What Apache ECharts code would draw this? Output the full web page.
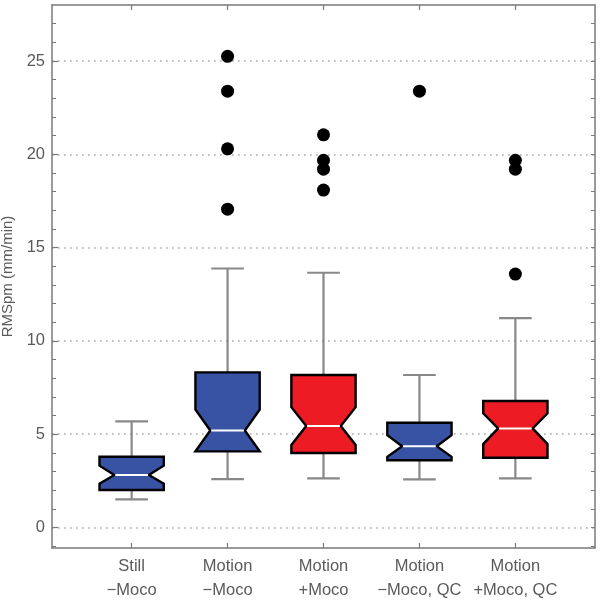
<!DOCTYPE html>
<html>
<head>
<meta charset="utf-8">
<script src="https://cdn.jsdelivr.net/npm/echarts@6/dist/echarts.min.js"></script>
<style>html,body{margin:0;padding:0;background:#fff}#c{width:600px;height:601px}</style>
</head>
<body>
<div id="c"></div>
<script>
// ---- data ----
const categories = ['Still\n\u2212Moco', 'Motion\n\u2212Moco', 'Motion\n+Moco', 'Motion\n\u2212Moco, QC', 'Motion\n+Moco, QC'];
const positions = [1, 2, 3, 4, 5];
const whiskerLow = [1.51, 2.59, 2.63, 2.58, 2.63];
const q1 = [2.01, 4.08, 3.99, 3.60, 3.74];
const notchLow = [2.35, 4.08, 4.42, 3.79, 4.47];
const median = [2.81, 5.20, 5.44, 4.35, 5.31];
const notchHigh = [3.31, 6.32, 6.45, 4.95, 6.12];
const q3 = [3.79, 8.31, 8.17, 5.61, 6.78];
const whiskerHigh = [5.69, 13.88, 13.65, 8.17, 11.22];
const outlierX = [2, 2, 2, 2, 3, 3, 3, 3, 4, 5, 5, 5];
const outlierY = [25.25, 23.38, 20.29, 17.06, 21.04, 19.68, 19.20, 18.08, 23.38, 19.68, 19.20, 13.58];
const yTickValues = [0, 5, 10, 15, 20, 25];
const yMinorValues = [-1,0,1,2,3,4,5,6,7,8,9,10,11,12,13,14,15,16,17,18,19,20,21,22,23,24,25,26,27];

// ---- styles ----
const boxColors = ['#3953a4', '#3953a4', '#ed1c24', '#3953a4', '#ed1c24'];
const BOX_HALF = 0.335, NOTCH_HALF = 0.18, CAP_HALF = 0.17;
const textColor = '#5a5a5a';
const axisColor = '#7a7a7a';

const boxData = positions.map((p, i) => [p, whiskerLow[i], q1[i], notchLow[i], median[i], notchHigh[i], q3[i], whiskerHigh[i], i]);
const outlierData = outlierX.map((x, i) => [x, outlierY[i]]);

function renderBox(params, api) {
  const x = api.value(0);
  const idx = api.value(8);
  const P = (dx, v) => api.coord([x + dx, v]);
  const wl = api.value(1), a = api.value(2), nl = api.value(3), m = api.value(4), nh = api.value(5), b = api.value(6), wh = api.value(7);
  const whiskerStyle = { stroke: '#888888', lineWidth: 2.2 };
  const poly = [
    P(-BOX_HALF, b), P(BOX_HALF, b), P(BOX_HALF, nh), P(NOTCH_HALF, m), P(BOX_HALF, nl), P(BOX_HALF, a),
    P(-BOX_HALF, a), P(-BOX_HALF, nl), P(-NOTCH_HALF, m), P(-BOX_HALF, nh)
  ];
  const line = (p1, p2, style) => ({ type: 'line', shape: { x1: p1[0], y1: p1[1], x2: p2[0], y2: p2[1] }, style: style });
  return {
    type: 'group',
    children: [
      line(P(0, b), P(0, wh), whiskerStyle),
      line(P(-CAP_HALF, wh), P(CAP_HALF, wh), whiskerStyle),
      line(P(0, a), P(0, wl), whiskerStyle),
      line(P(-CAP_HALF, wl), P(CAP_HALF, wl), whiskerStyle),
      { type: 'polygon', shape: { points: poly }, style: { fill: boxColors[idx], stroke: '#000', lineWidth: 2.4, lineJoin: 'miter' } },
      line(P(-NOTCH_HALF + 0.01, m), P(NOTCH_HALF - 0.01, m), { stroke: '#ffffff', lineWidth: 2 })
    ]
  };
}

const chart = echarts.init(document.getElementById('c'), null, { renderer: 'canvas' });
const fontFamily = 'Liberation Sans, Arial, sans-serif';
chart.setOption({
  animation: false,
  backgroundColor: '#fff',
  grid: { left: 52, right: 5, top: 5, bottom: 53, containLabel: false, outerBoundsMode: 'none' },
  xAxis: [
    {
      type: 'value', min: 0.17, max: 5.83, position: 'bottom',
      axisLine: { show: true, onZero: false, lineStyle: { color: axisColor, width: 1.5 } },
      axisTick: { show: true, inside: true, length: 5, customValues: positions, lineStyle: { color: axisColor, width: 1.2 } },
      axisLabel: { customValues: positions, margin: 6, color: textColor, fontSize: 16.5, fontFamily: fontFamily, lineHeight: 24,
        formatter: v => categories[positions.indexOf(Math.round(v))] || '' },
      splitLine: { show: false }
    },
    {
      type: 'value', min: 0.17, max: 5.83, position: 'top',
      axisLine: { show: true, onZero: false, lineStyle: { color: axisColor, width: 1.5 } },
      axisTick: { show: true, inside: true, length: 5, customValues: positions, lineStyle: { color: axisColor, width: 1.2 } },
      axisLabel: { show: false },
      splitLine: { show: false }
    }
  ],
  yAxis: [
    {
      type: 'value', min: -1.1, max: 28, position: 'left',
      name: 'RMSpm (mm/min)', nameLocation: 'middle', nameGap: 30, nameRotate: 90,
      nameTextStyle: { color: textColor, fontSize: 15, fontFamily: fontFamily },
      axisLine: { show: true, onZero: false, lineStyle: { color: axisColor, width: 1.5 } },
      axisTick: { show: true, inside: true, length: 6, customValues: yTickValues, lineStyle: { color: axisColor, width: 1.2 } },
      axisLabel: { customValues: yTickValues, margin: 7, color: textColor, fontSize: 16.5, fontFamily: fontFamily },
      splitLine: { show: true, lineStyle: { color: '#a8a8a8', width: 1.6, type: [1.6, 4.4] } }
    },
    {
      type: 'value', min: -1.1, max: 28, position: 'left',
      axisLine: { show: false, onZero: false },
      axisTick: { show: true, inside: true, length: 4, customValues: yMinorValues, lineStyle: { color: axisColor, width: 1 } },
      axisLabel: { show: false },
      splitLine: { show: false }
    },
    {
      type: 'value', min: -1.1, max: 28, position: 'right',
      axisLine: { show: true, onZero: false, lineStyle: { color: axisColor, width: 1.5 } },
      axisTick: { show: true, inside: true, length: 4, customValues: yMinorValues, lineStyle: { color: axisColor, width: 1 } },
      axisLabel: { show: false },
      splitLine: { show: false }
    }
  ],
  series: [
    {
      type: 'custom', xAxisIndex: 0, yAxisIndex: 0,
      renderItem: renderBox,
      encode: { x: 0, y: [1, 2, 3, 4, 5, 6, 7] },
      data: boxData,
      z: 2
    },
    {
      type: 'scatter', xAxisIndex: 0, yAxisIndex: 0,
      data: outlierData, symbol: 'circle', symbolSize: 13,
      itemStyle: { color: '#000', opacity: 1 },
      z: 3
    }
  ]
});
</script>
</body>
</html>
